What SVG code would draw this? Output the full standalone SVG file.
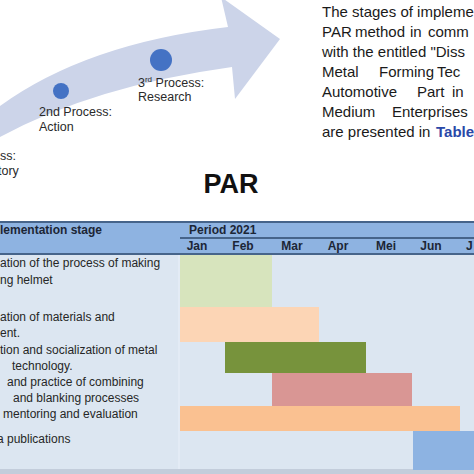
<svg xmlns="http://www.w3.org/2000/svg" width="474" height="474" viewBox="0 0 474 474">
<style>
.stg{font-family:"Liberation Sans",Arial,sans-serif;font-size:12.5px;fill:#2a2a2a}
.par{font-family:"Liberation Sans",Arial,sans-serif;font-size:15px;fill:#1a1a1a}
.lbl{font-family:"Liberation Sans",Arial,sans-serif;font-size:12px;fill:#262626}
.hdr{font-family:"Liberation Sans",Arial,sans-serif;font-size:12px;font-weight:bold;fill:#1c2636}
.mon{font-family:"Liberation Sans",Arial,sans-serif;font-size:12px;font-weight:bold;fill:#1c2636;text-anchor:middle}
.dot{fill:#4472c4}
.rule{stroke:#46648a;stroke-width:2}
</style>
<rect width="474" height="474" fill="#ffffff"/>
<g id="arrow">
<path d="M0,137 Q94,86 232,67 L235,99 L280,39 L221,-3 L228,27 Q86,43.5 0,106 Z" fill="#ccd4e9"/>
</g>
<g id="stage1">
<text class="stg" x="0" y="160">ss:</text>
<text class="stg" x="-2" y="175">tory</text>
</g>
<g id="stage2">
<circle class="dot" cx="61" cy="91" r="8"/>
<text class="stg" x="39" y="116">2nd Process:</text>
<text class="stg" x="39" y="131">Action</text>
</g>
<g id="stage3">
<circle class="dot" cx="161" cy="60" r="11"/>
<text class="stg" x="138" y="87">3<tspan font-size="8" dy="-5">rd</tspan><tspan dy="5"> Process:</tspan></text>
<text class="stg" x="138" y="101">Research</text>
</g>
<g id="title">
<text x="231" y="193" text-anchor="middle" font-family="Liberation Sans, Arial, sans-serif" font-size="27" font-weight="bold" fill="#111">PAR</text>
</g>
<g id="paragraph">
<text class="par" x="322" y="17">The stages of impleme</text>
<text class="par" y="37"><tspan x="322">PAR</tspan><tspan x="355">method</tspan><tspan x="410">in</tspan><tspan x="428">comm</tspan></text>
<text class="par" x="322" y="57">with the entitled "Diss</text>
<text class="par" y="77"><tspan x="322">Metal</tspan><tspan x="379">Forming</tspan><tspan x="437">Tec</tspan></text>
<text class="par" y="97"><tspan x="322">Automotive</tspan><tspan x="417">Part</tspan><tspan x="452">in</tspan></text>
<text class="par" y="117"><tspan x="322">Medium</tspan><tspan x="392">Enterprises</tspan></text>
<text class="par" y="137"><tspan x="322">are presented in</tspan><tspan x="436" font-weight="bold" fill="#2a48a8">Table</tspan></text>
</g>
<g id="table">
<rect x="0" y="222" width="474" height="32" fill="#8eb3e1"/>
<rect x="0" y="254" width="474" height="216" fill="#dce6f1"/>
<line x1="179" y1="254" x2="179" y2="470" stroke="#e6edf6" stroke-width="1.5"/>
<rect x="0" y="469" width="474" height="5" fill="#c3cddb"/>
<line class="rule" x1="0" y1="222" x2="474" y2="222"/>
<line class="rule" x1="180" y1="238" x2="474" y2="238"/>
<line class="rule" x1="0" y1="254" x2="474" y2="254"/>
<text class="hdr" x="0" y="234">lementation stage</text>
<text class="hdr" x="189" y="234">Period 2021</text>
<text class="mon" x="197" y="250">Jan</text>
<text class="mon" x="243" y="250">Feb</text>
<text class="mon" x="292" y="250">Mar</text>
<text class="mon" x="338" y="250">Apr</text>
<text class="mon" x="386" y="250">Mei</text>
<text class="mon" x="431" y="250">Jun</text>
<text class="hdr" x="466" y="250">J</text>
</g>
<g id="bars">
<rect x="180" y="255" width="92" height="52" fill="#d7e4bd"/>
<rect x="180" y="307" width="139" height="35" fill="#fcd5b5"/>
<rect x="225" y="342" width="141" height="31" fill="#77933c"/>
<rect x="272" y="373" width="140" height="33" fill="#d99694"/>
<rect x="180" y="406" width="280" height="25" fill="#fac191"/>
<rect x="413" y="431" width="61" height="39" fill="#8db3e2"/>
</g>
<g id="labels">
<text class="lbl" x="0" y="267">ation of the process of making</text>
<text class="lbl" x="0" y="284">ng helmet</text>
<text class="lbl" x="0" y="321">ation of materials and</text>
<text class="lbl" x="0" y="337">ent.</text>
<text class="lbl" x="0" y="354">tion and socialization of metal</text>
<text class="lbl" x="12" y="370">technology.</text>
<text class="lbl" x="7" y="386">and practice of combining</text>
<text class="lbl" x="13" y="402">and blanking processes</text>
<text class="lbl" x="3" y="418">mentoring and evaluation</text>
<text class="lbl" x="-3" y="443">a publications</text>
</g>
</svg>
